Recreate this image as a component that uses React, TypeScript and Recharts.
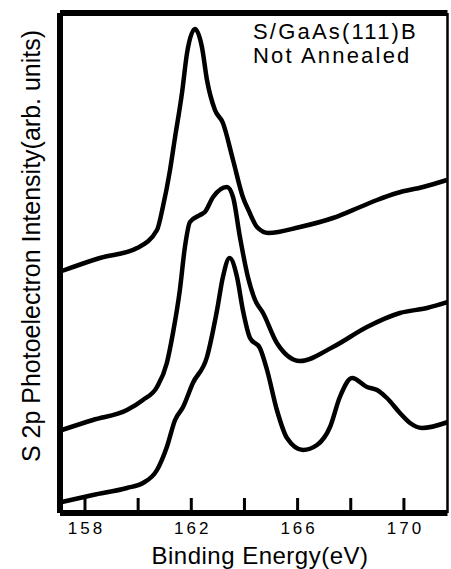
import { LineChart, Line, XAxis, YAxis, ReferenceLine } from 'recharts';

// binding energy (eV) / intensity (arb.), three spectra
const energyTop = [157.13, 158.56, 159.96, 160.71, 160.93, 161.2, 161.39, 161.65, 161.84, 162.14, 162.4, 162.59, 162.89, 163.19, 163.57, 163.94, 164.2, 164.32, 164.47, 164.9, 166.09, 167.33, 168.35, 168.99, 169.74, 170.72, 171.62];
const intensityTop = [242, 255, 265, 283, 306, 343, 376, 420, 460, 484, 466, 433, 403, 390, 353, 316, 300, 293, 286, 280, 286, 295, 306, 313, 320, 326, 333];

const energyMid = [157.13, 158.3, 159.58, 160.18, 160.71, 161.08, 161.31, 161.57, 161.76, 161.95, 162.33, 162.51, 162.82, 163.34, 163.57, 163.83, 164.13, 164.4, 164.7, 165.22, 166.09, 167.33, 168.61, 169.85, 170.87, 171.66];
const intensityMid = [83, 93, 103, 113, 126, 150, 180, 223, 266, 291, 298, 301, 316, 326, 316, 276, 236, 213, 200, 170, 152, 166, 186, 200, 205, 211];

const energyLow = [157.13, 158.3, 159.58, 160.18, 160.71, 161.08, 161.39, 161.69, 162.06, 162.59, 162.97, 163.19, 163.44, 163.72, 163.94, 164.21, 164.58, 164.85, 165.22, 165.6, 166.2, 166.73, 167.22, 167.59, 168.05, 168.61, 168.99, 169.36, 169.85, 170.23, 170.68, 171.66];
const intensityLow = [11, 18, 25, 30, 43, 66, 93, 106, 130, 156, 203, 236, 255, 236, 203, 175, 165, 143, 103, 75, 63, 68, 86, 116, 135, 126, 123, 115, 100, 90, 85, 91];

const xTicks = [158, 160, 162, 164, 166, 168, 170];
const labelledTicks = [158, 162, 166, 170];
const xDomain: [number, number] = [157.06, 171.64];
const yDomain: [number, number] = [0, 500];

const toPoints = (e: number[], v: number[]) => e.map((x, i) => ({ e: x, v: v[i] }));

const font = '"Liberation Sans", Arial, sans-serif';

const EnergyTick = (props: any) => {
  const { x, y, payload } = props;
  const show = labelledTicks.includes(payload.value);
  return (
    <g>
      <line x1={x} x2={x} y1={y - 15} y2={y} stroke="#000" strokeWidth={3} />
      {show && (
        <text x={x + 1.5} y={y + 21} textAnchor="middle" fontSize={17} letterSpacing={3} fill="#000" fontFamily={font}>
          {payload.value}
        </text>
      )}
    </g>
  );
};

export default function App() {
  const top = toPoints(energyTop, intensityTop);
  const mid = toPoints(energyMid, intensityMid);
  const low = toPoints(energyLow, intensityLow);

  return (
    <div style={{ position: 'absolute', left: 0, top: 0, width: 451, height: 569, background: '#fff' }}>
      <LineChart width={451} height={569} margin={{ top: 13, right: 3.5, bottom: 0, left: 60 }}>
        <XAxis
          type="number"
          dataKey="e"
          domain={xDomain}
          allowDataOverflow
          ticks={xTicks}
          interval={0}
          height={56}
          axisLine={{ stroke: '#000', strokeWidth: 6 }}
          tickLine={false}
          tickSize={0}
          tickMargin={0}
          tick={<EnergyTick />}
        />
        <YAxis type="number" domain={yDomain} allowDataOverflow width={0} hide />

        {/* frame: heavy left/top, thin right */}
        <ReferenceLine x={xDomain[0]} stroke="#000" strokeWidth={6} />
        <ReferenceLine y={yDomain[1]} stroke="#000" strokeWidth={6} />
        <ReferenceLine x={xDomain[1]} stroke="#000" strokeWidth={2.5} />

        <Line data={top} dataKey="v" type="monotone" stroke="#000" strokeWidth={4.5} dot={false} isAnimationActive={false} />
        <Line data={mid} dataKey="v" type="monotone" stroke="#000" strokeWidth={4.5} dot={false} isAnimationActive={false} />
        <Line data={low} dataKey="v" type="monotone" stroke="#000" strokeWidth={4.5} dot={false} isAnimationActive={false} />

        <text x={253} y={39} fontSize={22} letterSpacing={2.2} fontFamily={font} fill="#000">S/GaAs(111)B</text>
        <text x={253} y={63} fontSize={22} letterSpacing={2.2} fontFamily={font} fill="#000">Not Annealed</text>
        <text x={260} y={564} textAnchor="middle" fontSize={24} letterSpacing={0.5} fontFamily={font} fill="#000">Binding Energy(eV)</text>
        <text x={40} y={246} transform="rotate(-90 40 246)" textAnchor="middle" fontSize={25} fontFamily={font} fill="#000">S 2p Photoelectron Intensity(arb. units)</text>
      </LineChart>
    </div>
  );
}
